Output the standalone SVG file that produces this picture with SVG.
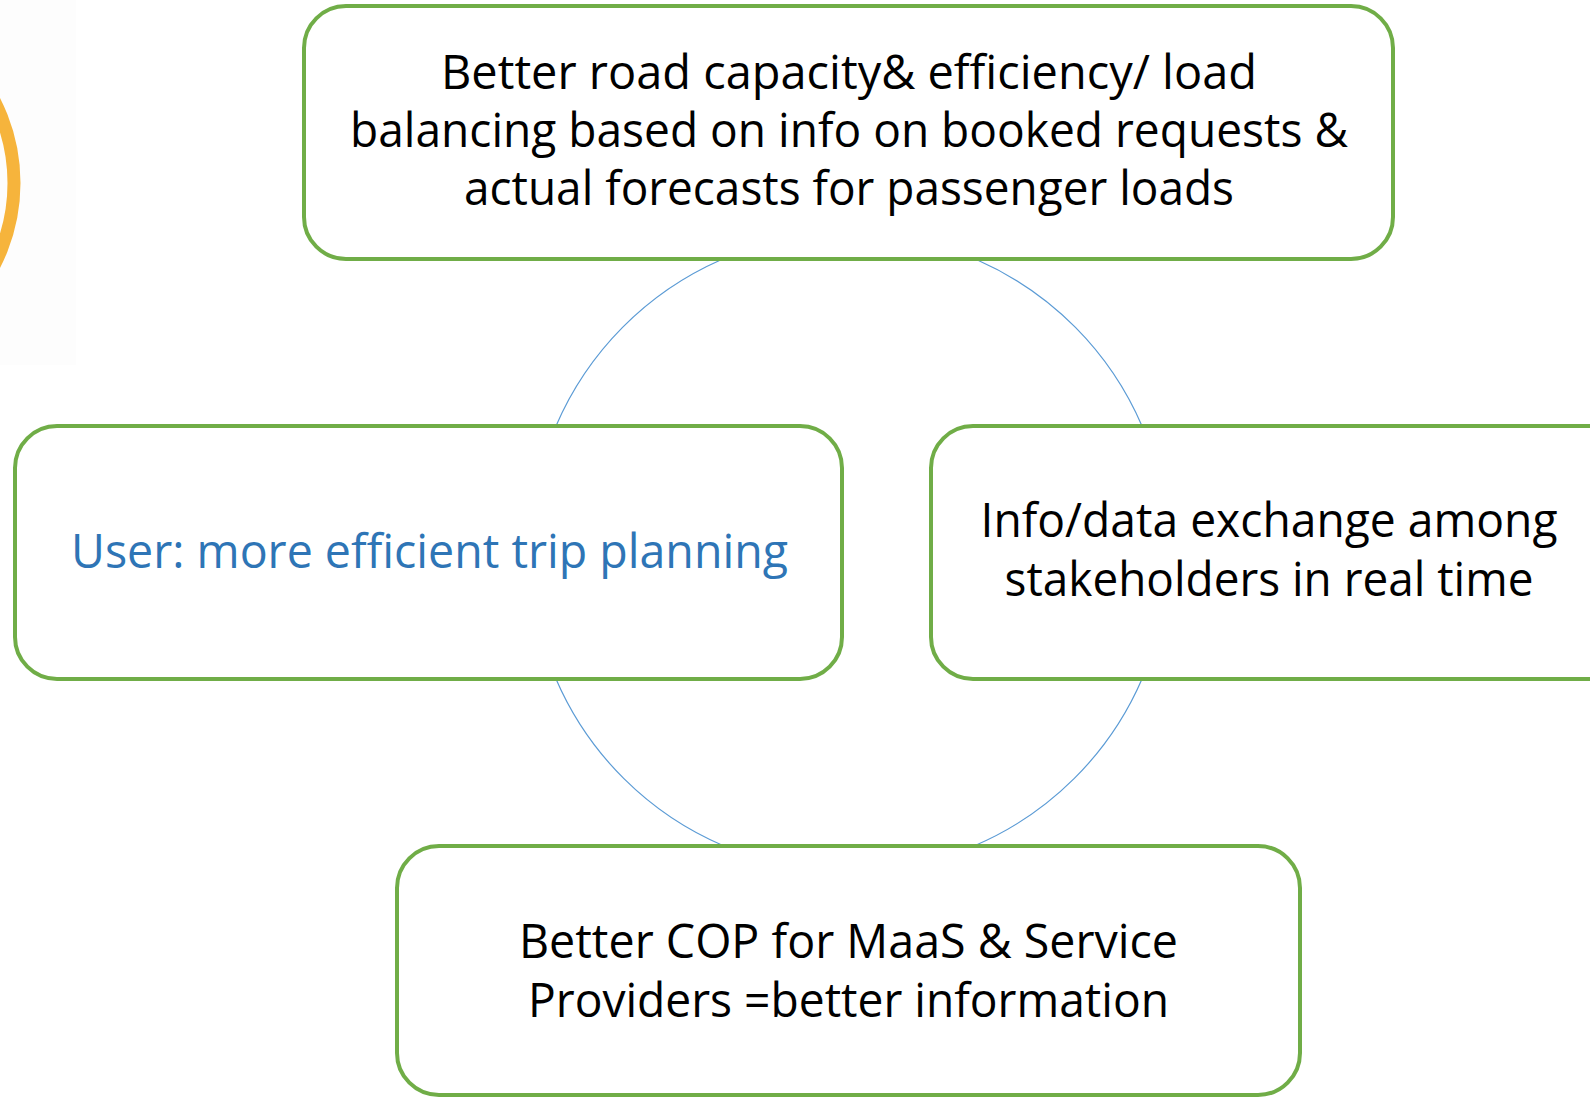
<svg xmlns="http://www.w3.org/2000/svg" width="1590" height="1097" viewBox="0 0 1590 1097">
<style>
.box{fill:#fff;stroke:#70AD47;stroke-width:4}
.t{font-family:"Open Sans","Noto Sans","Liberation Sans",sans-serif;font-size:47px;fill:#000;text-anchor:middle}
.blue{fill:#2E75B6}
.arc{fill:none;stroke:#5B9BD5;stroke-width:1.2}
</style>
<rect x="0" y="0" width="76" height="365" fill="#FDFDFD"/>
<circle cx="-166" cy="183" r="180" fill="none" stroke="#F6B43C" stroke-width="13"/>
<g id="connectors">
<path class="arc" d="M 720.6 260 A 319 319 0 0 0 556 426"/>
<path class="arc" d="M 977.4 260 A 319 319 0 0 1 1142 426"/>
<path class="arc" d="M 556 679 A 319 319 0 0 0 724 846"/>
<path class="arc" d="M 1142 679 A 319 319 0 0 1 974 846"/>
</g>
<g id="node-top">
<rect class="box" x="304" y="6" width="1089" height="253" rx="42"/>
<text class="t" x="849" y="89" textLength="816" lengthAdjust="spacingAndGlyphs">Better road capacity&amp; efficiency/ load</text>
<text class="t" x="849" y="147" textLength="998" lengthAdjust="spacingAndGlyphs">balancing based on info on booked requests &amp;</text>
<text class="t" x="849" y="205" textLength="770" lengthAdjust="spacingAndGlyphs">actual forecasts for passenger loads</text>
</g>
<g id="node-left">
<rect class="box" x="15" y="426" width="827" height="253" rx="42"/>
<text class="t blue" x="429.5" y="568" textLength="717" lengthAdjust="spacingAndGlyphs">User: more efficient trip planning</text>
</g>
<g id="node-right">
<rect class="box" x="931" y="426" width="700" height="253" rx="42"/>
<text class="t" x="1269" y="537" textLength="577" lengthAdjust="spacingAndGlyphs">Info/data exchange among</text>
<text class="t" x="1269" y="596" textLength="529" lengthAdjust="spacingAndGlyphs">stakeholders in real time</text>
</g>
<g id="node-bottom">
<rect class="box" x="397" y="846" width="903" height="249" rx="42"/>
<text class="t" x="848.5" y="958" textLength="659" lengthAdjust="spacingAndGlyphs">Better COP for MaaS &amp; Service</text>
<text class="t" x="848.5" y="1017" textLength="641" lengthAdjust="spacingAndGlyphs">Providers =better information</text>
</g>
</svg>
